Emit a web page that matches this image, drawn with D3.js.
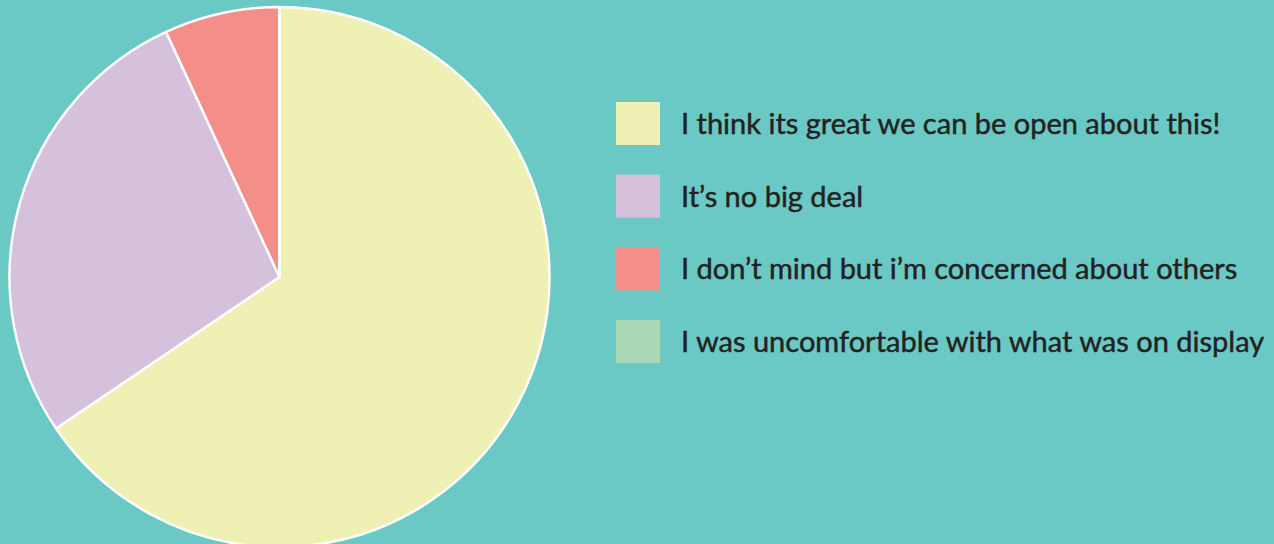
<!DOCTYPE html>
<html>
<head>
<meta charset="utf-8">
<script src="https://cdn.jsdelivr.net/npm/d3@7"></script>
<style>
  html, body { margin: 0; padding: 0; background: #6ac9c4; overflow: hidden; }
  .legend text { font-family: Lato, "Open Sans", sans-serif; font-size: 29px; fill: #222; stroke: #222; stroke-width: 0.45px; }
</style>
</head>
<body>
<script>
  // answers and how many people picked each one
  var answers = [
    "I think its great we can be open about this!",
    "It\u2019s no big deal",
    "I don\u2019t mind but i\u2019m concerned about others",
    "I was uncomfortable with what was on display"
  ];
  var counts = [19, 8, 2, 0];
  var colours = ["#eff1b4", "#d6c1dd", "#f48e88", "#aad8b4"];

  var width = 1274,
      height = 544;

  var svg = d3.select("body").append("svg")
      .attr("width", width)
      .attr("height", height);

  var radius = 270;

  var pie = d3.pie().sort(null);
  var arc = d3.arc().innerRadius(0).outerRadius(radius);

  var color = d3.scaleOrdinal().domain(answers).range(colours);

  var g = svg.append("g")
      .attr("transform", "translate(279.5,277)");

  g.selectAll("path")
      .data(pie(counts))
      .enter()
      .append("path")
      .attr("d", arc)
      .attr("fill", function(d, i) { return color(answers[i]); })
      .attr("stroke", "#fff")
      .attr("stroke-width", 2.5)
      .attr("stroke-linejoin", "round");

  // legend on the right
  var rowY = d3.scalePoint().domain(answers).range([102, 320]);

  var legend = svg.append("g").attr("class", "legend");

  var rows = legend.selectAll("g")
      .data(answers)
      .enter()
      .append("g")
      .attr("transform", function(d) { return "translate(616," + rowY(d) + ")"; });

  rows.append("rect")
      .attr("width", 44)
      .attr("height", 43)
      .attr("fill", function(d) { return color(d); });

  rows.append("text")
      .attr("x", 65)
      .attr("y", 22)
      .attr("dy", "0.35em")
      .text(function(d) { return d; });
</script>
</body>
</html>
